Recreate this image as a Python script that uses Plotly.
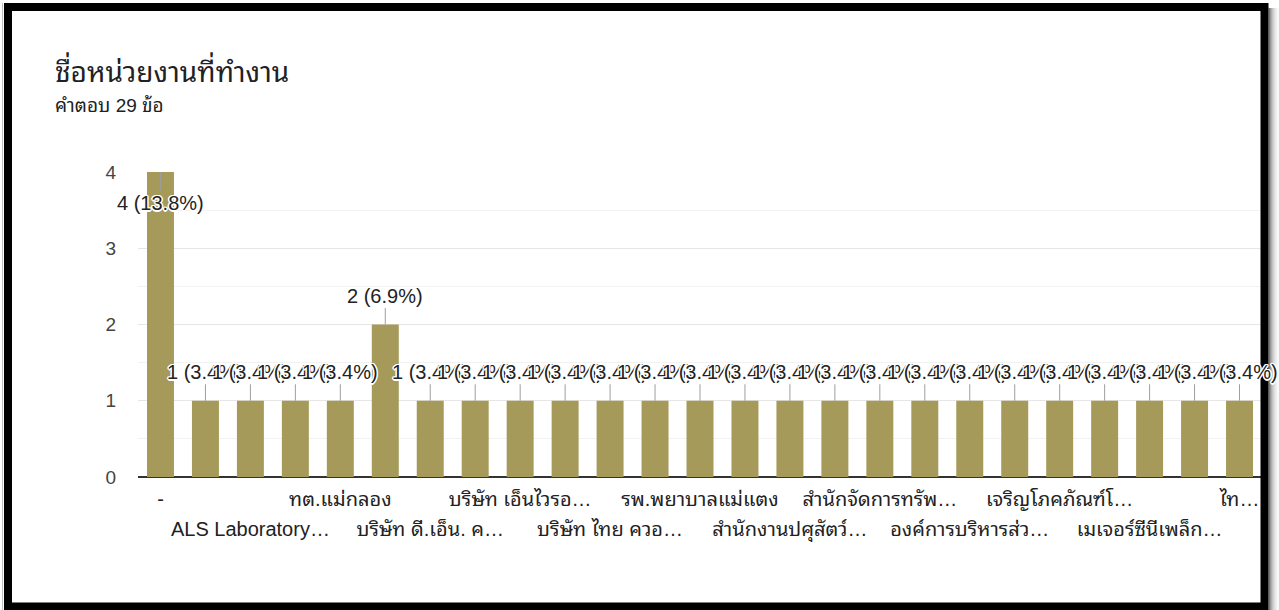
import plotly.graph_objects as go

# Responses per workplace (25 categories, 29 answers in total)
counts = [4, 1, 1, 1, 1, 2, 1, 1, 1, 1, 1, 1, 1, 1, 1, 1, 1, 1, 1, 1, 1, 1, 1, 1, 1]
# Axis labels; blank entries are categories whose label is not shown
tick_labels = [
    "-", "", "ALS Laboratory…", "", "ทต.แม่กลอง", "", "บริษัท ดี.เอ็น. ค…", "",
    "บริษัท เอ็นไวรอ…", "", "บริษัท ไทย ควอ…", "", "รพ.พยาบาลแม่แตง", "",
    "สำนักงานปศุสัตว์…", "", "สำนักจัดการทรัพ…", "", "องค์การบริหารส่ว…", "",
    "เจริญโภคภัณฑ์โ…", "", "เมเจอร์ซีนีเพล็ก…", "", "ไท…",
]
y_ticks = [0, 1, 2, 3, 4]
title_text = "ชื่อหน่วยงานที่ทำงาน"
subtitle_text = "คำตอบ 29 ข้อ"

W, H = 1279, 610
ML, MR, MT, MB = 138, 17, 172, 133
PW, PH = W - ML - MR, H - MT - MB


def fx(px):
    return (px - ML) / PW


def fy(py):
    return (H - MB - py) / PH


FONT = ("Arial, 'Liberation Sans', 'Noto Sans Thai Looped', Loma, Garuda, Tahoma, "
        "'Noto Sans Thai', sans-serif")
BAR = "#a69a5a"
total = sum(counts)
xs = list(range(len(counts)))

fig = go.Figure()
fig.add_trace(go.Bar(x=xs, y=counts, marker=dict(color=BAR, line=dict(width=0)),
                     hoverinfo="skip", showlegend=False))
# invisible trace carrying the second row of category labels
fig.add_trace(go.Scatter(x=xs, y=counts, xaxis="x2", mode="markers",
                         marker=dict(opacity=0), hoverinfo="skip", showlegend=False))

row1_vals = [i for i, t in enumerate(tick_labels) if t and (i // 2) % 2 == 0]
row2_vals = [i for i, t in enumerate(tick_labels) if t and (i // 2) % 2 == 1]

halo = ", ".join(f"{dx}px {dy}px 0 #fff" for dx, dy in
                 [(1.5, 0), (-1.5, 0), (0, 1.5), (0, -1.5), (1, 1), (-1, -1), (1, -1), (-1, 1)])

annotations = []
ymax = max(y_ticks)
for i, v in enumerate(counts):
    pct = v / total * 100
    inside = v >= ymax
    annotations.append(dict(
        x=i, y=v, xref="x", yref="y",
        text=f"{v} ({pct:.1f}%)",
        showarrow=True, arrowhead=0, arrowwidth=1, arrowcolor="#9e9e9e",
        ax=0, ay=31 if inside else -29, standoff=0,
        font=dict(family=FONT, size=20, color="#222222", shadow=halo),
    ))

annotations.append(dict(x=fx(53), y=fy(70), xref="paper", yref="paper",
                        text=title_text, showarrow=False, xanchor="left", yanchor="middle",
                        font=dict(family=FONT, size=28, color="#202124")))
annotations.append(dict(x=fx(53), y=fy(105), xref="paper", yref="paper",
                        text=subtitle_text, showarrow=False, xanchor="left", yanchor="middle",
                        font=dict(family=FONT, size=19, color="#202124")))

shapes = [
    # frame
    dict(type="rect", xref="paper", yref="paper", x0=fx(8), x1=fx(1264.5), y0=fy(7), y1=fy(606.5),
         line=dict(color="#000000", width=8), layer="above"),
    dict(type="line", xref="paper", yref="paper", x0=fx(2.5), x1=fx(2.5), y0=fy(3), y1=fy(610),
         line=dict(color="#bdbdbd", width=1), layer="above"),
]
# soft shadow beyond the right edge of the frame
for k, g in enumerate([90, 120, 150, 175, 195, 210, 222, 232, 240, 246, 250]):
    x = 1268.5 + k
    shapes.append(dict(type="line", xref="paper", yref="paper", x0=fx(x), x1=fx(x),
                       y0=fy(8), y1=fy(610), line=dict(color=f"rgb({g},{g},{g})", width=1),
                       layer="above"))

fig.update_layout(
    width=W, height=H,
    margin=dict(l=ML, r=MR, t=MT, b=MB),
    paper_bgcolor="#ffffff", plot_bgcolor="#ffffff",
    bargap=0.4,
    xaxis=dict(range=[-0.5, len(counts) - 0.5], tickmode="array", tickvals=row1_vals,
               ticktext=[tick_labels[i] for i in row1_vals], showgrid=False, zeroline=False,
               showline=False, ticks="", ticklabelstandoff=8,
               tickfont=dict(family=FONT, size=20, color="#222222")),
    xaxis2=dict(overlaying="x", matches="x", side="bottom", tickmode="array",
                tickvals=row2_vals, ticktext=[tick_labels[i] for i in row2_vals],
                showgrid=False, zeroline=False, showline=False, ticks="",
                ticklabelstandoff=38, tickfont=dict(family=FONT, size=20, color="#222222")),
    yaxis=dict(range=[0, ymax], tickmode="array", tickvals=y_ticks,
               showgrid=True, gridcolor="#e6e6e6", gridwidth=1,
               minor=dict(dtick=0.5, showgrid=True, gridcolor="#f2f2f2", gridwidth=1),
               zeroline=True, zerolinecolor="#333333", zerolinewidth=1.5,
               ticks="", ticklabelstandoff=21,
               tickfont=dict(family=FONT, size=19, color="#444444")),
    annotations=annotations,
    shapes=shapes,
    font=dict(family=FONT),
)

fig.write_html("out.html")
